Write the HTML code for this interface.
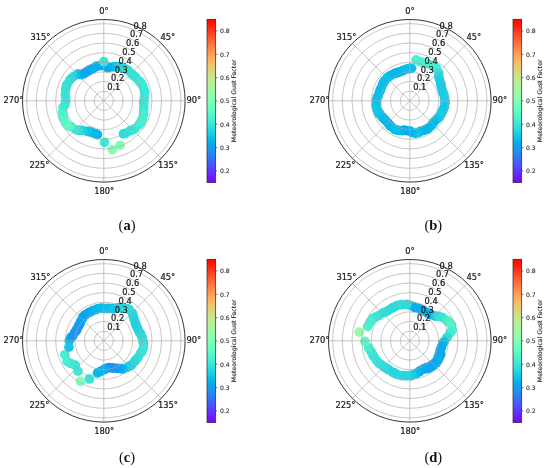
<!DOCTYPE html>
<html><head><meta charset="utf-8"><title>Meteorological Gust Factor polar plots</title>
<style>html,body{margin:0;padding:0;background:#fff}svg{display:block}</style></head>
<body>
<svg width="550" height="468" viewBox="0 0 550 468">
<rect width="550" height="468" fill="#fff"/>
<defs><linearGradient id="rb" x1="0" y1="1" x2="0" y2="0"><stop offset="0.00" stop-color="#8000ff"/><stop offset="0.05" stop-color="#6628fe"/><stop offset="0.10" stop-color="#4d4ffc"/><stop offset="0.15" stop-color="#3374f8"/><stop offset="0.20" stop-color="#1a96f3"/><stop offset="0.25" stop-color="#00b4ec"/><stop offset="0.30" stop-color="#19cee3"/><stop offset="0.35" stop-color="#33e3d9"/><stop offset="0.40" stop-color="#4cf3ce"/><stop offset="0.45" stop-color="#66fcc2"/><stop offset="0.50" stop-color="#80ffb4"/><stop offset="0.55" stop-color="#99fca6"/><stop offset="0.60" stop-color="#b2f396"/><stop offset="0.65" stop-color="#cce385"/><stop offset="0.70" stop-color="#e5ce74"/><stop offset="0.75" stop-color="#ffb462"/><stop offset="0.80" stop-color="#ff964f"/><stop offset="0.85" stop-color="#ff743c"/><stop offset="0.90" stop-color="#ff4f28"/><stop offset="0.95" stop-color="#ff2814"/><stop offset="1.00" stop-color="#ff0000"/></linearGradient></defs>
<g>
<circle cx="107.26" cy="67.67" r="4.85" fill="#0aa8ef"/>
<circle cx="109.00" cy="67.41" r="4.85" fill="#08abee"/>
<circle cx="113.18" cy="66.82" r="4.85" fill="#01b5eb"/>
<circle cx="116.64" cy="66.71" r="4.85" fill="#08bde9"/>
<circle cx="118.86" cy="66.65" r="4.85" fill="#15cae5"/>
<circle cx="123.27" cy="68.15" r="4.85" fill="#21d5e0"/>
<circle cx="125.96" cy="69.41" r="4.85" fill="#2adcdd"/>
<circle cx="128.28" cy="70.49" r="4.85" fill="#33e3d9"/>
<circle cx="131.75" cy="73.88" r="4.85" fill="#32e3da"/>
<circle cx="133.54" cy="75.66" r="4.85" fill="#33e3d9"/>
<circle cx="135.97" cy="77.59" r="4.85" fill="#35e4d9"/>
<circle cx="139.30" cy="81.28" r="4.85" fill="#37e6d8"/>
<circle cx="140.98" cy="82.97" r="4.85" fill="#39e8d7"/>
<circle cx="142.92" cy="86.21" r="4.85" fill="#3be9d6"/>
<circle cx="144.48" cy="90.78" r="4.85" fill="#3be9d6"/>
<circle cx="144.80" cy="92.87" r="4.85" fill="#3ae8d7"/>
<circle cx="144.46" cy="97.23" r="4.85" fill="#3be9d6"/>
<circle cx="143.62" cy="101.47" r="4.85" fill="#3ce9d6"/>
<circle cx="143.83" cy="103.49" r="4.85" fill="#3ae8d6"/>
<circle cx="143.80" cy="108.15" r="4.85" fill="#3ae8d7"/>
<circle cx="143.55" cy="111.94" r="4.85" fill="#3eead5"/>
<circle cx="143.70" cy="114.38" r="4.85" fill="#43eed2"/>
<circle cx="142.22" cy="119.36" r="4.85" fill="#46efd1"/>
<circle cx="141.08" cy="122.53" r="4.85" fill="#48f0d0"/>
<circle cx="139.26" cy="124.65" r="4.85" fill="#46efd1"/>
<circle cx="135.50" cy="128.42" r="4.85" fill="#42edd3"/>
<circle cx="132.90" cy="129.70" r="4.85" fill="#3be9d6"/>
<circle cx="129.81" cy="130.90" r="4.85" fill="#34e4d9"/>
<circle cx="125.54" cy="133.27" r="4.85" fill="#2fe1db"/>
<circle cx="123.40" cy="133.93" r="4.85" fill="#2cdedc"/>
<circle cx="97.42" cy="134.67" r="4.85" fill="#03b7eb"/>
<circle cx="95.71" cy="133.75" r="4.85" fill="#03b8eb"/>
<circle cx="91.85" cy="132.30" r="4.85" fill="#05b9ea"/>
<circle cx="89.25" cy="131.64" r="4.85" fill="#09bee9"/>
<circle cx="86.92" cy="131.37" r="4.85" fill="#10c5e6"/>
<circle cx="82.20" cy="130.47" r="4.85" fill="#1cd0e2"/>
<circle cx="79.07" cy="130.46" r="4.85" fill="#29dcdd"/>
<circle cx="75.79" cy="129.64" r="4.85" fill="#39e7d7"/>
<circle cx="71.27" cy="126.97" r="4.85" fill="#48f0d0"/>
<circle cx="68.77" cy="125.87" r="4.85" fill="#56f7ca"/>
<circle cx="65.90" cy="123.10" r="4.85" fill="#5ffac6"/>
<circle cx="63.53" cy="118.59" r="4.85" fill="#5af8c8"/>
<circle cx="63.00" cy="116.40" r="4.85" fill="#54f6cb"/>
<circle cx="62.71" cy="111.85" r="4.85" fill="#4ef3ce"/>
<circle cx="63.05" cy="107.26" r="4.85" fill="#47f0d1"/>
<circle cx="64.94" cy="104.98" r="4.85" fill="#3eebd5"/>
<circle cx="65.79" cy="100.54" r="4.85" fill="#39e7d7"/>
<circle cx="65.58" cy="97.00" r="4.85" fill="#38e7d7"/>
<circle cx="65.33" cy="94.84" r="4.85" fill="#37e6d8"/>
<circle cx="65.65" cy="90.03" r="4.85" fill="#36e5d8"/>
<circle cx="66.12" cy="86.88" r="4.85" fill="#34e4d9"/>
<circle cx="67.08" cy="84.52" r="4.85" fill="#34e4d9"/>
<circle cx="69.63" cy="80.23" r="4.85" fill="#32e3da"/>
<circle cx="71.46" cy="78.29" r="4.85" fill="#30e1db"/>
<circle cx="73.85" cy="76.41" r="4.85" fill="#2adcdd"/>
<circle cx="77.97" cy="73.87" r="4.85" fill="#1dd2e2"/>
<circle cx="81.32" cy="74.55" r="4.85" fill="#02b6eb"/>
<circle cx="84.20" cy="73.31" r="4.85" fill="#08abee"/>
<circle cx="87.62" cy="71.40" r="4.85" fill="#0da6ef"/>
<circle cx="89.00" cy="70.34" r="4.85" fill="#0aa8ef"/>
<circle cx="92.09" cy="68.74" r="4.85" fill="#08abee"/>
<circle cx="95.38" cy="67.06" r="4.85" fill="#07adee"/>
<circle cx="96.99" cy="66.18" r="4.85" fill="#07adee"/>
<circle cx="100.95" cy="65.61" r="4.85" fill="#08abee"/>
<circle cx="120.05" cy="145.43" r="4.85" fill="#80ffb4"/>
<circle cx="112.41" cy="149.60" r="4.85" fill="#80ffb4"/>
<circle cx="104.52" cy="142.31" r="4.85" fill="#3eead5"/>
<circle cx="103.80" cy="61.72" r="4.85" fill="#37e6d8"/>
<g fill="none" stroke="#a8a8a8" stroke-width="0.65">
<circle cx="103.8" cy="100.8" r="9.64"/>
<circle cx="103.8" cy="100.8" r="19.28"/>
<circle cx="103.8" cy="100.8" r="28.92"/>
<circle cx="103.8" cy="100.8" r="38.56"/>
<circle cx="103.8" cy="100.8" r="48.20"/>
<circle cx="103.8" cy="100.8" r="57.84"/>
<circle cx="103.8" cy="100.8" r="67.48"/>
<circle cx="103.8" cy="100.8" r="77.12"/>
<line x1="103.8" y1="100.8" x2="103.80" y2="19.50"/>
<line x1="103.8" y1="100.8" x2="161.29" y2="43.31"/>
<line x1="103.8" y1="100.8" x2="185.10" y2="100.80"/>
<line x1="103.8" y1="100.8" x2="161.29" y2="158.29"/>
<line x1="103.8" y1="100.8" x2="103.80" y2="182.10"/>
<line x1="103.8" y1="100.8" x2="46.31" y2="158.29"/>
<line x1="103.8" y1="100.8" x2="22.50" y2="100.80"/>
<line x1="103.8" y1="100.8" x2="46.31" y2="43.31"/>
</g>
<circle cx="103.8" cy="100.8" r="81.3" fill="none" stroke="#2a2a2a" stroke-width="0.95"/>
<g font-family="'DejaVu Sans','Liberation Sans',sans-serif" font-size="8.3" fill="#1a1a1a" stroke="#1a1a1a" stroke-width="0.22" text-anchor="middle">
<text x="103.9" y="13.5">0°</text>
<text x="167.8" y="39.6">45°</text>
<text x="193.9" y="103.2">90°</text>
<text x="168.0" y="167.5">135°</text>
<text x="104.2" y="193.5">180°</text>
<text x="39.5" y="167.5">225°</text>
<text x="13.5" y="103.3">270°</text>
<text x="40.4" y="39.9">315°</text>
</g>
<g font-family="'DejaVu Sans','Liberation Sans',sans-serif" font-size="8.3" fill="#1a1a1a" stroke="#1a1a1a" stroke-width="0.22" text-anchor="middle">
<text x="113.8" y="90.2">0.1</text>
<text x="117.6" y="81.4">0.2</text>
<text x="121.3" y="72.6">0.3</text>
<text x="125.1" y="63.8">0.4</text>
<text x="128.9" y="54.9">0.5</text>
<text x="132.7" y="46.1">0.6</text>
<text x="136.5" y="37.3">0.7</text>
<text x="140.2" y="28.5">0.8</text>
</g>
<rect x="207.0" y="19.3" width="8.7" height="163.3" fill="url(#rb)" stroke="#262626" stroke-width="0.7"/>
<g font-family="'DejaVu Sans','Liberation Sans',sans-serif" font-size="6.1" fill="#2e2e2e" stroke="#2e2e2e" stroke-width="0.12">
<line x1="215.7" y1="170.94" x2="217.6" y2="170.94" stroke="#262626" stroke-width="0.6"/>
<text x="220.0" y="173.24">0.2</text>
<line x1="215.7" y1="147.61" x2="217.6" y2="147.61" stroke="#262626" stroke-width="0.6"/>
<text x="220.0" y="149.91">0.3</text>
<line x1="215.7" y1="124.28" x2="217.6" y2="124.28" stroke="#262626" stroke-width="0.6"/>
<text x="220.0" y="126.58">0.4</text>
<line x1="215.7" y1="100.95" x2="217.6" y2="100.95" stroke="#262626" stroke-width="0.6"/>
<text x="220.0" y="103.25">0.5</text>
<line x1="215.7" y1="77.62" x2="217.6" y2="77.62" stroke="#262626" stroke-width="0.6"/>
<text x="220.0" y="79.92">0.6</text>
<line x1="215.7" y1="54.29" x2="217.6" y2="54.29" stroke="#262626" stroke-width="0.6"/>
<text x="220.0" y="56.59">0.7</text>
<line x1="215.7" y1="30.96" x2="217.6" y2="30.96" stroke="#262626" stroke-width="0.6"/>
<text x="220.0" y="33.26">0.8</text>
<text transform="translate(236.2,100.8) rotate(-90)" text-anchor="middle" font-size="6.2">Meteorological Gust Factor</text>
</g>
<text x="127" y="229.6" text-anchor="middle" font-family="'Liberation Serif',serif" font-size="14.5" fill="#111">(<tspan font-weight="bold">a</tspan>)</text>
</g>
<g>
<circle cx="416.16" cy="59.92" r="4.85" fill="#4af1d0"/>
<circle cx="420.56" cy="61.83" r="4.85" fill="#4af1d0"/>
<circle cx="424.08" cy="62.88" r="4.85" fill="#49f1d0"/>
<circle cx="426.35" cy="63.29" r="4.85" fill="#49f1d0"/>
<circle cx="431.06" cy="65.14" r="4.85" fill="#48f0d0"/>
<circle cx="434.06" cy="66.44" r="4.85" fill="#47f0d1"/>
<circle cx="436.41" cy="67.85" r="4.85" fill="#44eed2"/>
<circle cx="438.75" cy="72.91" r="4.85" fill="#35e4d9"/>
<circle cx="438.66" cy="76.40" r="4.85" fill="#24d8df"/>
<circle cx="439.46" cy="79.40" r="4.85" fill="#1ed2e2"/>
<circle cx="440.81" cy="83.75" r="4.85" fill="#18cde4"/>
<circle cx="441.09" cy="85.80" r="4.85" fill="#17cce4"/>
<circle cx="441.93" cy="88.82" r="4.85" fill="#17cce4"/>
<circle cx="442.97" cy="92.63" r="4.85" fill="#18cde4"/>
<circle cx="443.72" cy="94.24" r="4.85" fill="#19cee3"/>
<circle cx="444.64" cy="97.74" r="4.85" fill="#1acfe3"/>
<circle cx="445.08" cy="101.40" r="4.85" fill="#1bd0e3"/>
<circle cx="445.03" cy="103.17" r="4.85" fill="#18cde4"/>
<circle cx="444.26" cy="107.14" r="4.85" fill="#14c9e5"/>
<circle cx="443.04" cy="110.11" r="4.85" fill="#0ec3e7"/>
<circle cx="442.16" cy="111.82" r="4.85" fill="#14c9e5"/>
<circle cx="440.30" cy="115.54" r="4.85" fill="#1acfe3"/>
<circle cx="438.64" cy="117.62" r="4.85" fill="#1acfe3"/>
<circle cx="436.86" cy="118.99" r="4.85" fill="#11c6e6"/>
<circle cx="434.01" cy="121.89" r="4.85" fill="#0abfe9"/>
<circle cx="432.80" cy="123.65" r="4.85" fill="#07bbea"/>
<circle cx="431.23" cy="125.60" r="4.85" fill="#04b8ea"/>
<circle cx="428.17" cy="128.23" r="4.85" fill="#01b6eb"/>
<circle cx="426.60" cy="129.21" r="4.85" fill="#02b7eb"/>
<circle cx="423.86" cy="130.33" r="4.85" fill="#02b6eb"/>
<circle cx="420.25" cy="131.42" r="4.85" fill="#01b6eb"/>
<circle cx="418.78" cy="132.23" r="4.85" fill="#08bde9"/>
<circle cx="415.56" cy="133.36" r="4.85" fill="#0fc4e7"/>
<circle cx="412.03" cy="132.55" r="4.85" fill="#09bee9"/>
<circle cx="410.41" cy="131.22" r="4.85" fill="#01b5eb"/>
<circle cx="406.97" cy="130.74" r="4.85" fill="#04afed"/>
<circle cx="404.27" cy="130.19" r="4.85" fill="#09aaee"/>
<circle cx="402.47" cy="130.62" r="4.85" fill="#04b0ed"/>
<circle cx="398.59" cy="130.35" r="4.85" fill="#04b8eb"/>
<circle cx="396.04" cy="129.97" r="4.85" fill="#09bfe9"/>
<circle cx="394.22" cy="129.01" r="4.85" fill="#09bee9"/>
<circle cx="391.00" cy="126.63" r="4.85" fill="#07bce9"/>
<circle cx="389.60" cy="125.03" r="4.85" fill="#04b9ea"/>
<circle cx="388.08" cy="123.17" r="4.85" fill="#02b7eb"/>
<circle cx="385.51" cy="120.34" r="4.85" fill="#02b7eb"/>
<circle cx="384.22" cy="119.11" r="4.85" fill="#04b9ea"/>
<circle cx="382.21" cy="117.04" r="4.85" fill="#07bbea"/>
<circle cx="379.82" cy="114.05" r="4.85" fill="#0abfe8"/>
<circle cx="378.44" cy="112.79" r="4.85" fill="#0ec3e7"/>
<circle cx="377.05" cy="109.60" r="4.85" fill="#10c5e6"/>
<circle cx="376.23" cy="106.12" r="4.85" fill="#11c6e6"/>
<circle cx="376.22" cy="104.41" r="4.85" fill="#10c5e6"/>
<circle cx="376.50" cy="100.58" r="4.85" fill="#0ec3e7"/>
<circle cx="377.34" cy="97.57" r="4.85" fill="#0cc1e8"/>
<circle cx="378.20" cy="95.91" r="4.85" fill="#0abfe9"/>
<circle cx="379.46" cy="92.23" r="4.85" fill="#08bde9"/>
<circle cx="380.38" cy="89.93" r="4.85" fill="#08bde9"/>
<circle cx="381.07" cy="88.07" r="4.85" fill="#08bde9"/>
<circle cx="382.66" cy="84.46" r="4.85" fill="#09bee9"/>
<circle cx="383.56" cy="82.54" r="4.85" fill="#0abfe9"/>
<circle cx="384.87" cy="80.50" r="4.85" fill="#0abfe8"/>
<circle cx="387.60" cy="77.66" r="4.85" fill="#09bfe9"/>
<circle cx="388.97" cy="76.48" r="4.85" fill="#09bee9"/>
<circle cx="391.39" cy="74.98" r="4.85" fill="#07bce9"/>
<circle cx="394.72" cy="73.40" r="4.85" fill="#04b9ea"/>
<circle cx="396.30" cy="73.01" r="4.85" fill="#02b7eb"/>
<circle cx="399.27" cy="71.96" r="4.85" fill="#01b5eb"/>
<circle cx="402.33" cy="70.86" r="4.85" fill="#03b8eb"/>
<circle cx="403.75" cy="70.09" r="4.85" fill="#07bce9"/>
<circle cx="407.22" cy="68.96" r="4.85" fill="#0cc1e8"/>
<circle cx="409.80" cy="68.45" r="4.85" fill="#0bc0e8"/>
<circle cx="411.50" cy="68.31" r="4.85" fill="#0bc0e8"/>
<g fill="none" stroke="#a8a8a8" stroke-width="0.65">
<circle cx="409.8" cy="100.8" r="9.64"/>
<circle cx="409.8" cy="100.8" r="19.28"/>
<circle cx="409.8" cy="100.8" r="28.92"/>
<circle cx="409.8" cy="100.8" r="38.56"/>
<circle cx="409.8" cy="100.8" r="48.20"/>
<circle cx="409.8" cy="100.8" r="57.84"/>
<circle cx="409.8" cy="100.8" r="67.48"/>
<circle cx="409.8" cy="100.8" r="77.12"/>
<line x1="409.8" y1="100.8" x2="409.80" y2="19.50"/>
<line x1="409.8" y1="100.8" x2="467.29" y2="43.31"/>
<line x1="409.8" y1="100.8" x2="491.10" y2="100.80"/>
<line x1="409.8" y1="100.8" x2="467.29" y2="158.29"/>
<line x1="409.8" y1="100.8" x2="409.80" y2="182.10"/>
<line x1="409.8" y1="100.8" x2="352.31" y2="158.29"/>
<line x1="409.8" y1="100.8" x2="328.50" y2="100.80"/>
<line x1="409.8" y1="100.8" x2="352.31" y2="43.31"/>
</g>
<circle cx="409.8" cy="100.8" r="81.3" fill="none" stroke="#2a2a2a" stroke-width="0.95"/>
<g font-family="'DejaVu Sans','Liberation Sans',sans-serif" font-size="8.3" fill="#1a1a1a" stroke="#1a1a1a" stroke-width="0.22" text-anchor="middle">
<text x="409.9" y="13.5">0°</text>
<text x="473.8" y="39.6">45°</text>
<text x="499.9" y="103.2">90°</text>
<text x="474.0" y="167.5">135°</text>
<text x="410.2" y="193.5">180°</text>
<text x="345.5" y="167.5">225°</text>
<text x="319.5" y="103.3">270°</text>
<text x="346.4" y="39.9">315°</text>
</g>
<g font-family="'DejaVu Sans','Liberation Sans',sans-serif" font-size="8.3" fill="#1a1a1a" stroke="#1a1a1a" stroke-width="0.22" text-anchor="middle">
<text x="419.8" y="90.2">0.1</text>
<text x="423.6" y="81.4">0.2</text>
<text x="427.3" y="72.6">0.3</text>
<text x="431.1" y="63.8">0.4</text>
<text x="434.9" y="54.9">0.5</text>
<text x="438.7" y="46.1">0.6</text>
<text x="442.5" y="37.3">0.7</text>
<text x="446.2" y="28.5">0.8</text>
</g>
<rect x="513.0" y="19.3" width="8.7" height="163.3" fill="url(#rb)" stroke="#262626" stroke-width="0.7"/>
<g font-family="'DejaVu Sans','Liberation Sans',sans-serif" font-size="6.1" fill="#2e2e2e" stroke="#2e2e2e" stroke-width="0.12">
<line x1="521.7" y1="170.94" x2="523.6" y2="170.94" stroke="#262626" stroke-width="0.6"/>
<text x="526.0" y="173.24">0.2</text>
<line x1="521.7" y1="147.61" x2="523.6" y2="147.61" stroke="#262626" stroke-width="0.6"/>
<text x="526.0" y="149.91">0.3</text>
<line x1="521.7" y1="124.28" x2="523.6" y2="124.28" stroke="#262626" stroke-width="0.6"/>
<text x="526.0" y="126.58">0.4</text>
<line x1="521.7" y1="100.95" x2="523.6" y2="100.95" stroke="#262626" stroke-width="0.6"/>
<text x="526.0" y="103.25">0.5</text>
<line x1="521.7" y1="77.62" x2="523.6" y2="77.62" stroke="#262626" stroke-width="0.6"/>
<text x="526.0" y="79.92">0.6</text>
<line x1="521.7" y1="54.29" x2="523.6" y2="54.29" stroke="#262626" stroke-width="0.6"/>
<text x="526.0" y="56.59">0.7</text>
<line x1="521.7" y1="30.96" x2="523.6" y2="30.96" stroke="#262626" stroke-width="0.6"/>
<text x="526.0" y="33.26">0.8</text>
<text transform="translate(542.2,100.8) rotate(-90)" text-anchor="middle" font-size="6.2">Meteorological Gust Factor</text>
</g>
<text x="433.3" y="229.6" text-anchor="middle" font-family="'Liberation Serif',serif" font-size="14.5" fill="#111">(<tspan font-weight="bold">b</tspan>)</text>
</g>
<g>
<circle cx="103.80" cy="308.45" r="4.85" fill="#09bee9"/>
<circle cx="107.16" cy="308.56" r="4.85" fill="#09bee9"/>
<circle cx="108.83" cy="308.46" r="4.85" fill="#0bc0e8"/>
<circle cx="112.67" cy="308.67" r="4.85" fill="#0ec3e7"/>
<circle cx="116.00" cy="308.39" r="4.85" fill="#13c8e6"/>
<circle cx="118.47" cy="307.56" r="4.85" fill="#1acee3"/>
<circle cx="123.26" cy="308.16" r="4.85" fill="#20d4e1"/>
<circle cx="126.50" cy="308.65" r="4.85" fill="#26d9de"/>
<circle cx="129.20" cy="309.35" r="4.85" fill="#2bdddd"/>
<circle cx="132.42" cy="313.23" r="4.85" fill="#29dcdd"/>
<circle cx="133.18" cy="315.96" r="4.85" fill="#25d8df"/>
<circle cx="134.01" cy="319.00" r="4.85" fill="#21d5e0"/>
<circle cx="135.48" cy="323.38" r="4.85" fill="#1ed2e2"/>
<circle cx="136.06" cy="325.33" r="4.85" fill="#1cd1e2"/>
<circle cx="137.54" cy="328.22" r="4.85" fill="#1dd2e2"/>
<circle cx="139.24" cy="332.07" r="4.85" fill="#1fd3e1"/>
<circle cx="140.52" cy="333.70" r="4.85" fill="#23d7e0"/>
<circle cx="142.10" cy="337.44" r="4.85" fill="#28dbde"/>
<circle cx="143.10" cy="341.46" r="4.85" fill="#2cdedc"/>
<circle cx="143.57" cy="343.48" r="4.85" fill="#32e2da"/>
<circle cx="143.27" cy="348.06" r="4.85" fill="#37e6d8"/>
<circle cx="142.01" cy="351.50" r="4.85" fill="#37e6d8"/>
<circle cx="140.55" cy="353.31" r="4.85" fill="#35e5d9"/>
<circle cx="138.09" cy="357.37" r="4.85" fill="#33e3d9"/>
<circle cx="136.14" cy="359.66" r="4.85" fill="#2edfdc"/>
<circle cx="134.54" cy="361.47" r="4.85" fill="#29dcdd"/>
<circle cx="131.52" cy="364.95" r="4.85" fill="#25d8df"/>
<circle cx="129.39" cy="366.22" r="4.85" fill="#20d4e1"/>
<circle cx="126.85" cy="367.48" r="4.85" fill="#19cee3"/>
<circle cx="122.69" cy="369.01" r="4.85" fill="#08bde9"/>
<circle cx="120.29" cy="368.68" r="4.85" fill="#08abee"/>
<circle cx="116.96" cy="368.44" r="4.85" fill="#11a1f0"/>
<circle cx="113.12" cy="368.12" r="4.85" fill="#1997f2"/>
<circle cx="111.49" cy="367.73" r="4.85" fill="#1b94f3"/>
<circle cx="108.55" cy="367.65" r="4.85" fill="#1d91f3"/>
<circle cx="105.75" cy="368.55" r="4.85" fill="#179af2"/>
<circle cx="104.37" cy="369.46" r="4.85" fill="#0fa3f0"/>
<circle cx="100.92" cy="371.21" r="4.85" fill="#03b1ec"/>
<circle cx="69.26" cy="340.57" r="4.85" fill="#04b9ea"/>
<circle cx="70.99" cy="337.54" r="4.85" fill="#0ca7ef"/>
<circle cx="72.66" cy="335.98" r="4.85" fill="#1799f2"/>
<circle cx="74.66" cy="332.57" r="4.85" fill="#1b95f3"/>
<circle cx="76.27" cy="330.63" r="4.85" fill="#1d92f3"/>
<circle cx="77.14" cy="328.99" r="4.85" fill="#1b94f3"/>
<circle cx="78.78" cy="325.73" r="4.85" fill="#1997f2"/>
<circle cx="79.81" cy="324.11" r="4.85" fill="#1799f2"/>
<circle cx="80.59" cy="321.90" r="4.85" fill="#149df1"/>
<circle cx="82.37" cy="318.46" r="4.85" fill="#12a0f1"/>
<circle cx="83.18" cy="316.73" r="4.85" fill="#11a1f0"/>
<circle cx="85.23" cy="314.75" r="4.85" fill="#10a2f0"/>
<circle cx="88.43" cy="312.87" r="4.85" fill="#0ea5ef"/>
<circle cx="89.86" cy="312.12" r="4.85" fill="#0ba8ef"/>
<circle cx="92.80" cy="310.69" r="4.85" fill="#07acee"/>
<circle cx="96.02" cy="309.62" r="4.85" fill="#03b1ed"/>
<circle cx="97.53" cy="308.94" r="4.85" fill="#02b7eb"/>
<circle cx="101.14" cy="307.98" r="4.85" fill="#08bde9"/>
<circle cx="97.56" cy="372.92" r="4.85" fill="#04b8ea"/>
<circle cx="89.46" cy="378.96" r="4.85" fill="#37e6d8"/>
<circle cx="80.42" cy="381.29" r="4.85" fill="#80ffb4"/>
<circle cx="77.98" cy="371.13" r="4.85" fill="#3eead5"/>
<circle cx="75.25" cy="365.10" r="4.85" fill="#37e6d8"/>
<circle cx="70.86" cy="363.52" r="4.85" fill="#3eead5"/>
<circle cx="67.07" cy="361.33" r="4.85" fill="#45efd2"/>
<circle cx="64.89" cy="354.73" r="4.85" fill="#45efd2"/>
<circle cx="68.93" cy="347.14" r="4.85" fill="#12c7e6"/>
<g fill="none" stroke="#a8a8a8" stroke-width="0.65">
<circle cx="103.8" cy="340.8" r="9.64"/>
<circle cx="103.8" cy="340.8" r="19.28"/>
<circle cx="103.8" cy="340.8" r="28.92"/>
<circle cx="103.8" cy="340.8" r="38.56"/>
<circle cx="103.8" cy="340.8" r="48.20"/>
<circle cx="103.8" cy="340.8" r="57.84"/>
<circle cx="103.8" cy="340.8" r="67.48"/>
<circle cx="103.8" cy="340.8" r="77.12"/>
<line x1="103.8" y1="340.8" x2="103.80" y2="259.50"/>
<line x1="103.8" y1="340.8" x2="161.29" y2="283.31"/>
<line x1="103.8" y1="340.8" x2="185.10" y2="340.80"/>
<line x1="103.8" y1="340.8" x2="161.29" y2="398.29"/>
<line x1="103.8" y1="340.8" x2="103.80" y2="422.10"/>
<line x1="103.8" y1="340.8" x2="46.31" y2="398.29"/>
<line x1="103.8" y1="340.8" x2="22.50" y2="340.80"/>
<line x1="103.8" y1="340.8" x2="46.31" y2="283.31"/>
</g>
<circle cx="103.8" cy="340.8" r="81.3" fill="none" stroke="#2a2a2a" stroke-width="0.95"/>
<g font-family="'DejaVu Sans','Liberation Sans',sans-serif" font-size="8.3" fill="#1a1a1a" stroke="#1a1a1a" stroke-width="0.22" text-anchor="middle">
<text x="103.9" y="253.5">0°</text>
<text x="167.8" y="279.6">45°</text>
<text x="193.9" y="343.2">90°</text>
<text x="168.0" y="407.5">135°</text>
<text x="104.2" y="433.5">180°</text>
<text x="39.5" y="407.5">225°</text>
<text x="13.5" y="343.3">270°</text>
<text x="40.4" y="279.9">315°</text>
</g>
<g font-family="'DejaVu Sans','Liberation Sans',sans-serif" font-size="8.3" fill="#1a1a1a" stroke="#1a1a1a" stroke-width="0.22" text-anchor="middle">
<text x="113.8" y="330.2">0.1</text>
<text x="117.6" y="321.4">0.2</text>
<text x="121.3" y="312.6">0.3</text>
<text x="125.1" y="303.8">0.4</text>
<text x="128.9" y="294.9">0.5</text>
<text x="132.7" y="286.1">0.6</text>
<text x="136.5" y="277.3">0.7</text>
<text x="140.2" y="268.5">0.8</text>
</g>
<rect x="207.0" y="259.3" width="8.7" height="163.3" fill="url(#rb)" stroke="#262626" stroke-width="0.7"/>
<g font-family="'DejaVu Sans','Liberation Sans',sans-serif" font-size="6.1" fill="#2e2e2e" stroke="#2e2e2e" stroke-width="0.12">
<line x1="215.7" y1="410.94" x2="217.6" y2="410.94" stroke="#262626" stroke-width="0.6"/>
<text x="220.0" y="413.24">0.2</text>
<line x1="215.7" y1="387.61" x2="217.6" y2="387.61" stroke="#262626" stroke-width="0.6"/>
<text x="220.0" y="389.91">0.3</text>
<line x1="215.7" y1="364.28" x2="217.6" y2="364.28" stroke="#262626" stroke-width="0.6"/>
<text x="220.0" y="366.58">0.4</text>
<line x1="215.7" y1="340.95" x2="217.6" y2="340.95" stroke="#262626" stroke-width="0.6"/>
<text x="220.0" y="343.25">0.5</text>
<line x1="215.7" y1="317.62" x2="217.6" y2="317.62" stroke="#262626" stroke-width="0.6"/>
<text x="220.0" y="319.92">0.6</text>
<line x1="215.7" y1="294.29" x2="217.6" y2="294.29" stroke="#262626" stroke-width="0.6"/>
<text x="220.0" y="296.59">0.7</text>
<line x1="215.7" y1="270.96" x2="217.6" y2="270.96" stroke="#262626" stroke-width="0.6"/>
<text x="220.0" y="273.26">0.8</text>
<text transform="translate(236.2,340.8) rotate(-90)" text-anchor="middle" font-size="6.2">Meteorological Gust Factor</text>
</g>
<text x="127" y="461.5" text-anchor="middle" font-family="'Liberation Serif',serif" font-size="14.5" fill="#111">(<tspan font-weight="bold">c</tspan>)</text>
</g>
<g>
<circle cx="440.61" cy="353.88" r="4.85" fill="#07acee"/>
<circle cx="439.77" cy="356.73" r="4.85" fill="#0ba8ef"/>
<circle cx="438.33" cy="360.04" r="4.85" fill="#0ba8ef"/>
<circle cx="436.30" cy="363.04" r="4.85" fill="#0ba8ef"/>
<circle cx="433.70" cy="365.55" r="4.85" fill="#0ba8ef"/>
<circle cx="430.52" cy="367.32" r="4.85" fill="#0ba8ef"/>
<circle cx="427.24" cy="368.71" r="4.85" fill="#0ba8ef"/>
<circle cx="409.80" cy="305.24" r="4.85" fill="#26d9df"/>
<circle cx="413.37" cy="306.62" r="4.85" fill="#0dc2e7"/>
<circle cx="414.98" cy="307.50" r="4.85" fill="#04afed"/>
<circle cx="418.75" cy="308.39" r="4.85" fill="#03b1ed"/>
<circle cx="421.50" cy="309.74" r="4.85" fill="#03b1ec"/>
<circle cx="423.15" cy="310.55" r="4.85" fill="#03b1ec"/>
<circle cx="426.57" cy="312.67" r="4.85" fill="#03b1ed"/>
<circle cx="428.86" cy="313.81" r="4.85" fill="#04b0ed"/>
<circle cx="430.93" cy="314.64" r="4.85" fill="#04b0ed"/>
<circle cx="435.39" cy="316.15" r="4.85" fill="#14c9e5"/>
<circle cx="438.73" cy="316.34" r="4.85" fill="#2ddfdc"/>
<circle cx="442.22" cy="317.41" r="4.85" fill="#35e5d8"/>
<circle cx="446.78" cy="320.47" r="4.85" fill="#3eebd5"/>
<circle cx="449.04" cy="321.98" r="4.85" fill="#48f0d0"/>
<circle cx="451.64" cy="325.20" r="4.85" fill="#51f4cc"/>
<circle cx="452.14" cy="330.37" r="4.85" fill="#4cf2ce"/>
<circle cx="450.11" cy="333.00" r="4.85" fill="#41ecd4"/>
<circle cx="447.04" cy="337.53" r="4.85" fill="#2bdddd"/>
<circle cx="444.40" cy="341.38" r="4.85" fill="#15cbe5"/>
<circle cx="443.06" cy="343.04" r="4.85" fill="#08bde9"/>
<circle cx="441.59" cy="346.64" r="4.85" fill="#04b0ed"/>
<circle cx="440.58" cy="349.42" r="4.85" fill="#09aaee"/>
<circle cx="440.20" cy="351.15" r="4.85" fill="#0aa9ee"/>
<circle cx="438.96" cy="354.89" r="4.85" fill="#0aa8ef"/>
<circle cx="438.32" cy="357.43" r="4.85" fill="#08abee"/>
<circle cx="437.57" cy="359.47" r="4.85" fill="#07adee"/>
<circle cx="435.15" cy="362.89" r="4.85" fill="#07adee"/>
<circle cx="433.35" cy="364.19" r="4.85" fill="#08abee"/>
<circle cx="431.10" cy="365.45" r="4.85" fill="#0aa9ef"/>
<circle cx="427.55" cy="367.31" r="4.85" fill="#0da6ef"/>
<circle cx="425.86" cy="367.95" r="4.85" fill="#0da6ef"/>
<circle cx="423.33" cy="369.22" r="4.85" fill="#0ba7ef"/>
<circle cx="420.04" cy="370.81" r="4.85" fill="#08abee"/>
<circle cx="418.71" cy="372.00" r="4.85" fill="#01b3ec"/>
<circle cx="415.63" cy="373.75" r="4.85" fill="#09bee9"/>
<circle cx="412.22" cy="375.16" r="4.85" fill="#13c9e5"/>
<circle cx="410.50" cy="375.83" r="4.85" fill="#1bd0e3"/>
<circle cx="406.48" cy="375.94" r="4.85" fill="#21d5e1"/>
<circle cx="403.26" cy="375.57" r="4.85" fill="#24d8df"/>
<circle cx="401.28" cy="375.49" r="4.85" fill="#25d8df"/>
<circle cx="397.02" cy="374.47" r="4.85" fill="#26d9df"/>
<circle cx="394.53" cy="373.16" r="4.85" fill="#24d8df"/>
<circle cx="392.58" cy="371.98" r="4.85" fill="#24d7df"/>
<circle cx="388.76" cy="369.70" r="4.85" fill="#24d8df"/>
<circle cx="386.68" cy="368.53" r="4.85" fill="#26d9de"/>
<circle cx="384.31" cy="367.05" r="4.85" fill="#29dbde"/>
<circle cx="380.60" cy="364.29" r="4.85" fill="#2ddfdc"/>
<circle cx="378.76" cy="363.02" r="4.85" fill="#31e2da"/>
<circle cx="376.55" cy="360.37" r="4.85" fill="#34e4d9"/>
<circle cx="373.91" cy="356.65" r="4.85" fill="#35e5d8"/>
<circle cx="372.73" cy="354.98" r="4.85" fill="#36e5d8"/>
<circle cx="370.94" cy="351.25" r="4.85" fill="#3ae8d6"/>
<circle cx="372.75" cy="318.49" r="4.85" fill="#41ecd4"/>
<circle cx="375.64" cy="317.02" r="4.85" fill="#3ce9d6"/>
<circle cx="378.82" cy="315.58" r="4.85" fill="#37e6d8"/>
<circle cx="383.09" cy="312.96" r="4.85" fill="#32e2da"/>
<circle cx="385.26" cy="312.15" r="4.85" fill="#2ee0db"/>
<circle cx="388.22" cy="310.53" r="4.85" fill="#2cdedc"/>
<circle cx="391.88" cy="308.24" r="4.85" fill="#2bdddd"/>
<circle cx="393.50" cy="307.26" r="4.85" fill="#2bdddd"/>
<circle cx="396.98" cy="305.69" r="4.85" fill="#2bdddd"/>
<circle cx="400.77" cy="304.61" r="4.85" fill="#2cdedc"/>
<circle cx="402.67" cy="304.57" r="4.85" fill="#2cdedc"/>
<circle cx="406.86" cy="304.45" r="4.85" fill="#2bdddd"/>
<circle cx="368.59" cy="347.77" r="4.85" fill="#45efd2"/>
<circle cx="365.02" cy="341.43" r="4.85" fill="#5bf9c7"/>
<circle cx="359.29" cy="332.17" r="4.85" fill="#95fda8"/>
<circle cx="367.81" cy="326.34" r="4.85" fill="#4df3ce"/>
<circle cx="370.30" cy="321.96" r="4.85" fill="#45efd2"/>
<g fill="none" stroke="#a8a8a8" stroke-width="0.65">
<circle cx="409.8" cy="340.8" r="9.64"/>
<circle cx="409.8" cy="340.8" r="19.28"/>
<circle cx="409.8" cy="340.8" r="28.92"/>
<circle cx="409.8" cy="340.8" r="38.56"/>
<circle cx="409.8" cy="340.8" r="48.20"/>
<circle cx="409.8" cy="340.8" r="57.84"/>
<circle cx="409.8" cy="340.8" r="67.48"/>
<circle cx="409.8" cy="340.8" r="77.12"/>
<line x1="409.8" y1="340.8" x2="409.80" y2="259.50"/>
<line x1="409.8" y1="340.8" x2="467.29" y2="283.31"/>
<line x1="409.8" y1="340.8" x2="491.10" y2="340.80"/>
<line x1="409.8" y1="340.8" x2="467.29" y2="398.29"/>
<line x1="409.8" y1="340.8" x2="409.80" y2="422.10"/>
<line x1="409.8" y1="340.8" x2="352.31" y2="398.29"/>
<line x1="409.8" y1="340.8" x2="328.50" y2="340.80"/>
<line x1="409.8" y1="340.8" x2="352.31" y2="283.31"/>
</g>
<circle cx="409.8" cy="340.8" r="81.3" fill="none" stroke="#2a2a2a" stroke-width="0.95"/>
<g font-family="'DejaVu Sans','Liberation Sans',sans-serif" font-size="8.3" fill="#1a1a1a" stroke="#1a1a1a" stroke-width="0.22" text-anchor="middle">
<text x="409.9" y="253.5">0°</text>
<text x="473.8" y="279.6">45°</text>
<text x="499.9" y="343.2">90°</text>
<text x="474.0" y="407.5">135°</text>
<text x="410.2" y="433.5">180°</text>
<text x="345.5" y="407.5">225°</text>
<text x="319.5" y="343.3">270°</text>
<text x="346.4" y="279.9">315°</text>
</g>
<g font-family="'DejaVu Sans','Liberation Sans',sans-serif" font-size="8.3" fill="#1a1a1a" stroke="#1a1a1a" stroke-width="0.22" text-anchor="middle">
<text x="419.8" y="330.2">0.1</text>
<text x="423.6" y="321.4">0.2</text>
<text x="427.3" y="312.6">0.3</text>
<text x="431.1" y="303.8">0.4</text>
<text x="434.9" y="294.9">0.5</text>
<text x="438.7" y="286.1">0.6</text>
<text x="442.5" y="277.3">0.7</text>
<text x="446.2" y="268.5">0.8</text>
</g>
<rect x="513.0" y="259.3" width="8.7" height="163.3" fill="url(#rb)" stroke="#262626" stroke-width="0.7"/>
<g font-family="'DejaVu Sans','Liberation Sans',sans-serif" font-size="6.1" fill="#2e2e2e" stroke="#2e2e2e" stroke-width="0.12">
<line x1="521.7" y1="410.94" x2="523.6" y2="410.94" stroke="#262626" stroke-width="0.6"/>
<text x="526.0" y="413.24">0.2</text>
<line x1="521.7" y1="387.61" x2="523.6" y2="387.61" stroke="#262626" stroke-width="0.6"/>
<text x="526.0" y="389.91">0.3</text>
<line x1="521.7" y1="364.28" x2="523.6" y2="364.28" stroke="#262626" stroke-width="0.6"/>
<text x="526.0" y="366.58">0.4</text>
<line x1="521.7" y1="340.95" x2="523.6" y2="340.95" stroke="#262626" stroke-width="0.6"/>
<text x="526.0" y="343.25">0.5</text>
<line x1="521.7" y1="317.62" x2="523.6" y2="317.62" stroke="#262626" stroke-width="0.6"/>
<text x="526.0" y="319.92">0.6</text>
<line x1="521.7" y1="294.29" x2="523.6" y2="294.29" stroke="#262626" stroke-width="0.6"/>
<text x="526.0" y="296.59">0.7</text>
<line x1="521.7" y1="270.96" x2="523.6" y2="270.96" stroke="#262626" stroke-width="0.6"/>
<text x="526.0" y="273.26">0.8</text>
<text transform="translate(542.2,340.8) rotate(-90)" text-anchor="middle" font-size="6.2">Meteorological Gust Factor</text>
</g>
<text x="433.3" y="461.5" text-anchor="middle" font-family="'Liberation Serif',serif" font-size="14.5" fill="#111">(<tspan font-weight="bold">d</tspan>)</text>
</g>
</svg>
</body></html>
